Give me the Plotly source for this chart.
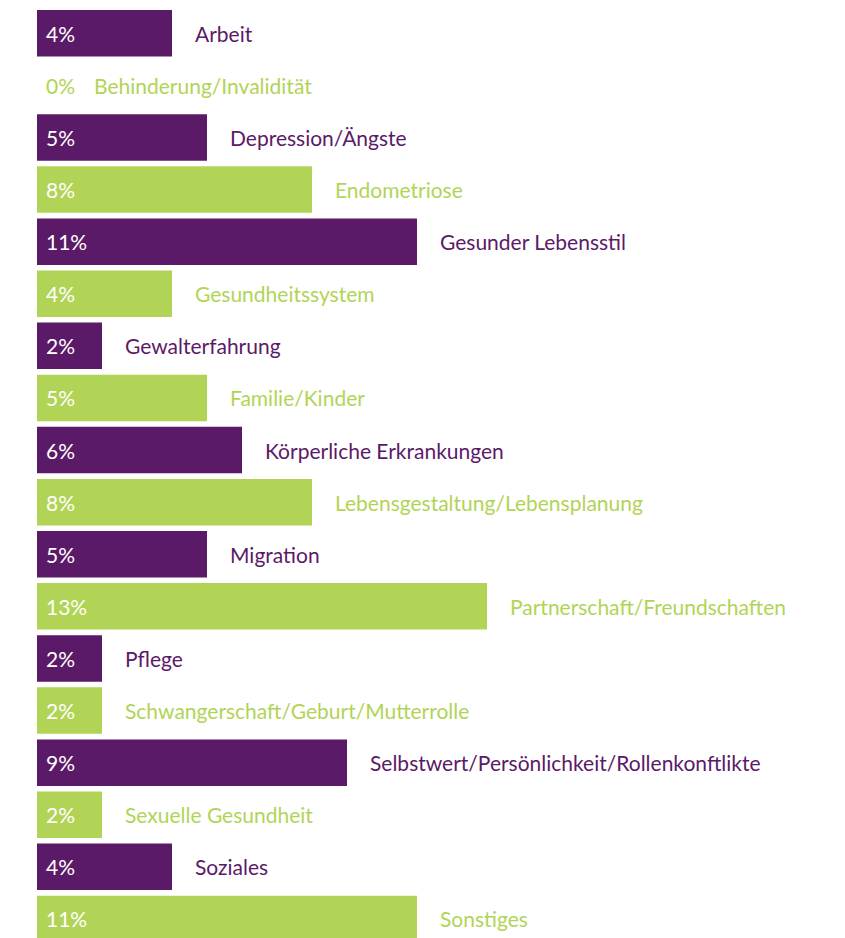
import plotly.graph_objects as go

categories = [
    "Arbeit", "Behinderung/Invalidität", "Depression/Ängste", "Endometriose",
    "Gesunder Lebensstil", "Gesundheitssystem", "Gewalterfahrung", "Familie/Kinder",
    "Körperliche Erkrankungen", "Lebensgestaltung/Lebensplanung", "Migration",
    "Partnerschaft/Freundschaften", "Pflege", "Schwangerschaft/Geburt/Mutterrolle",
    "Selbstwert/Persönlichkeit/Rollenkonftlikte", "Sexuelle Gesundheit", "Soziales", "Sonstiges",
]
values = [4, 0, 5, 8, 11, 4, 2, 5, 6, 8, 5, 13, 2, 2, 9, 2, 4, 11]
value_labels = ["4%", "0%", "5%", "8%", "11%", "4%", "2%", "5%", "6%", "8%", "5%",
                "13%", "2%", "2%", "9%", "2%", "4%", "11%"]

PURPLE = "#5B1A67"
GREEN = "#B1D456"
colors = [PURPLE if i % 2 == 0 else GREEN for i in range(len(categories))]

W, H = 845, 938
ML = 24
PX_PER_UNIT = 35.0
plot_w = W - ML

fig = go.Figure(go.Bar(
    x=values, y=categories, orientation="h",
    marker=dict(color=colors, line=dict(width=0)),
    hoverinfo="skip",
))

FONT = "Lato"
FS = 21
annotations = []
for cat, v, lab, col in zip(categories, values, value_labels, colors):
    if v > 0:
        annotations.append(dict(x=0, y=cat, xref="x", yref="y", text=lab, showarrow=False,
                                xanchor="left", xshift=12, font=dict(family=FONT, size=FS, color="white")))
        annotations.append(dict(x=v, y=cat, xref="x", yref="y", text=cat, showarrow=False,
                                xanchor="left", xshift=21, font=dict(family=FONT, size=FS, color=col)))
    else:
        annotations.append(dict(x=0, y=cat, xref="x", yref="y", text=lab, showarrow=False,
                                xanchor="left", xshift=12, font=dict(family=FONT, size=FS, color=col)))
        annotations.append(dict(x=0, y=cat, xref="x", yref="y", text=cat, showarrow=False,
                                xanchor="left", xshift=60, font=dict(family=FONT, size=FS, color=col)))

fig.update_layout(
    width=W, height=H,
    margin=dict(l=ML, r=0, t=0, b=0),
    paper_bgcolor="white", plot_bgcolor="white",
    showlegend=False,
    bargap=0.107,
    annotations=annotations,
    shapes=[dict(type="rect", xref="paper", yref="paper", x0=0, x1=5 / plot_w, y0=0, y1=1,
                 fillcolor="white", line=dict(width=0), layer="above")],
    xaxis=dict(range=[0, plot_w / PX_PER_UNIT], visible=False, fixedrange=True),
    yaxis=dict(range=[17.519, -0.4846], visible=False, type="category",
               categoryorder="array", categoryarray=categories, fixedrange=True),
)

fig.write_html("out.html", config={"displayModeBar": False})
